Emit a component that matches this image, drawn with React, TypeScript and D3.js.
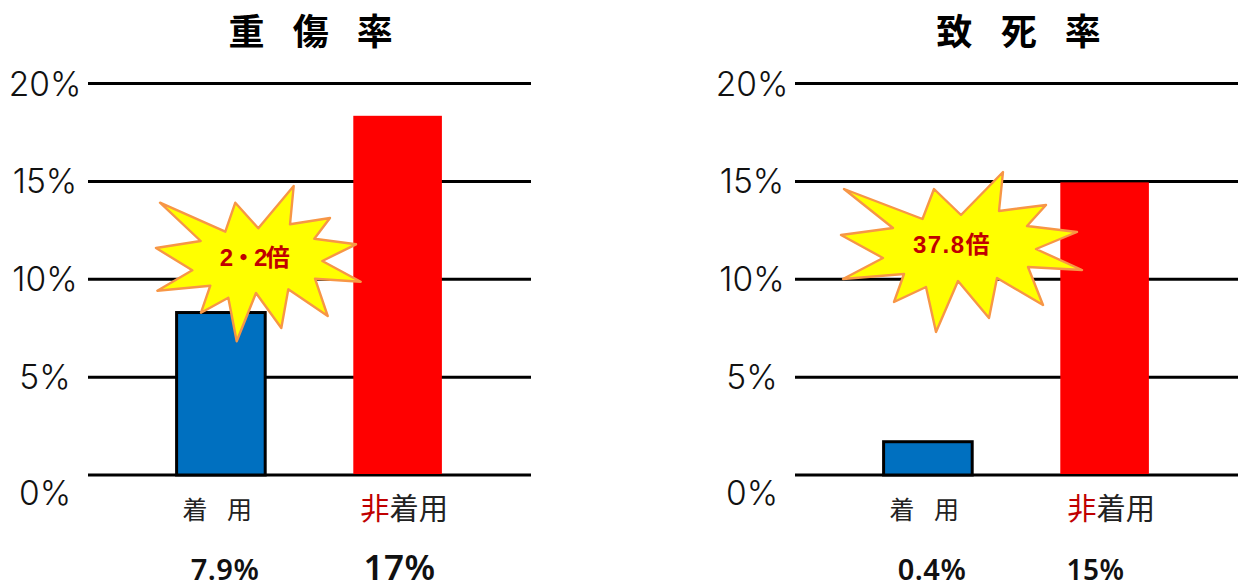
import * as d3 from 'd3'

const GROUPS = ['着用', '非着用']
const TICKS = [0, 5, 10, 15, 20]

const INJURY_BARS = [8.3, 18.35]
const INJURY_LABELS = ['7.9%', '17%']
const DEATH_BARS = [1.7, 14.95]
const DEATH_LABELS = ['0.4%', '15%']

// starburst callouts, traced in page pixels
const INJURY_BURST: [number, number][] = [
  [160, 202.7], [225.3, 231.7], [235.3, 202.7], [258.3, 228.3], [293.7, 186], [290, 224.3],
  [330, 218], [314.3, 238.7], [356, 244.3], [322.3, 261], [360.7, 281.7], [315, 278.7],
  [327.7, 316], [288.3, 289.3], [281.3, 328], [256, 293], [236.7, 341.3], [228.3, 297.7],
  [201, 312.7], [210.3, 285.7], [157.3, 290.7], [192.3, 270.3], [156, 248], [200.7, 241],
]
const DEATH_BURST: [number, number][] = [
  [844, 189], [922.5, 219], [934, 189], [961, 215], [1003, 172], [999, 211],
  [1046, 205], [1027, 226], [1077, 232], [1036, 249], [1082, 270], [1028, 267],
  [1043, 305], [997, 278], [989, 318], [958, 281], [936, 332], [926, 287],
  [894, 302], [904, 274], [843, 279], [883, 258], [841, 235], [893, 228],
]

const W = 1252
const H = 582
const TOP = 83.5
const BOTTOM = 475
const JP = '"Noto Sans CJK JP", sans-serif'
const BAR_COLORS = ['#0070c0', '#ff0000']

const y = d3.scaleLinear().domain([0, 20]).range([BOTTOM, TOP])
const burstLine = d3.line().curve(d3.curveLinearClosed)

interface PanelProps {
  left: number
  title: string
  titleX: number
  bars: number[]
  labels: string[]
  labelStyle: { x: number; size: number }[]
  burst: [number, number][]
  burstText: string
  burstX: number
  burstY: number
  burstSpacing: number
}

function Panel({ left, title, titleX, bars, labels, labelStyle, burst, burstText, burstX, burstY, burstSpacing }: PanelProps) {
  const right = left + 443
  const x = d3.scaleBand<string>().domain(GROUPS).range([left, right]).paddingInner(0.5).paddingOuter(0.5)
  const bw = x.bandwidth()
  const c0 = x(GROUPS[0])! + bw / 2
  const c1 = x(GROUPS[1])! + bw / 2

  return (
    <g>
      <text x={titleX} y={45} fontFamily={JP} fontSize={36} fontWeight={700} letterSpacing={10} fill="#000" xmlSpace="preserve">
        {title}
      </text>

      {TICKS.map((t) => (
        <g key={t}>
          <line x1={left} x2={right} y1={y(t)} y2={y(t)} stroke="#000" strokeWidth={3} />
          <text
            x={left - 43}
            y={t === 0 ? y(t) + 29.5 : y(t) + 12}
            textAnchor="middle"
            fontFamily="Inter, sans-serif"
            fontWeight={300}
            fontSize={33.5}
            fill="#111"
          >
            {t}%
          </text>
        </g>
      ))}

      {GROUPS.map((g, i) =>
        i === 0 ? (
          <rect
            key={g}
            x={x(g)!}
            y={y(bars[i])}
            width={bw}
            height={BOTTOM - y(bars[i])}
            fill={BAR_COLORS[i]}
            stroke="#000"
            strokeWidth={3}
          />
        ) : (
          <rect key={g} x={x(g)! - 0.5} y={y(bars[i])} width={bw} height={BOTTOM - 1 - y(bars[i])} fill={BAR_COLORS[i]} />
        ),
      )}

      <text x={c0 - 2} y={519} textAnchor="middle" fontFamily={JP} fontSize={25} letterSpacing={3.5} fill="#222" xmlSpace="preserve">
        着{'\u2002'}用
      </text>
      <text x={c1 + 6} y={519} textAnchor="middle" fontFamily={JP} fontSize={29.3} fill="#222">
        <tspan fill="#c00000">非</tspan>着用
      </text>

      {labels.map((l, i) => (
        <text
          key={l}
          x={labelStyle[i].x}
          y={580}
          textAnchor="middle"
          fontFamily='"Noto Sans", sans-serif'
          fontSize={labelStyle[i].size}
          fontWeight={600}
          letterSpacing={0.5}
          fill="#111"
        >
          {l}
        </text>
      ))}

      <path d={burstLine(burst) ?? ''} fill="#ffff00" stroke="#f79646" strokeWidth={2.4} strokeLinejoin="round" />
      <text
        x={burstX}
        y={burstY}
        textAnchor="middle"
        fontFamily={`"Liberation Sans", ${JP}`}
        fontSize={24}
        fontWeight={700}
        letterSpacing={burstSpacing}
        fill="#c00000"
      >
        {burstText}
      </text>
    </g>
  )
}

export default function App() {
  return (
    <svg width={W} height={H} style={{ position: 'absolute', left: 0, top: 0, background: '#fff' }}>
      <Panel
        left={88}
        title="重 傷 率"
        titleX={228.5}
        bars={INJURY_BARS}
        labels={INJURY_LABELS}
        labelStyle={[
          { x: 225, size: 29 },
          { x: 399.5, size: 35 },
        ]}
        burst={INJURY_BURST}
        burstText="2・2倍"
        burstX={254}
        burstY={266}
        burstSpacing={-1.5}
      />
      <Panel
        left={795}
        title="致 死 率"
        titleX={936.5}
        bars={DEATH_BARS}
        labels={DEATH_LABELS}
        labelStyle={[
          { x: 932, size: 29 },
          { x: 1095.5, size: 28 },
        ]}
        burst={DEATH_BURST}
        burstText="37.8倍"
        burstX={952}
        burstY={253}
        burstSpacing={1.5}
      />
    </svg>
  )
}
